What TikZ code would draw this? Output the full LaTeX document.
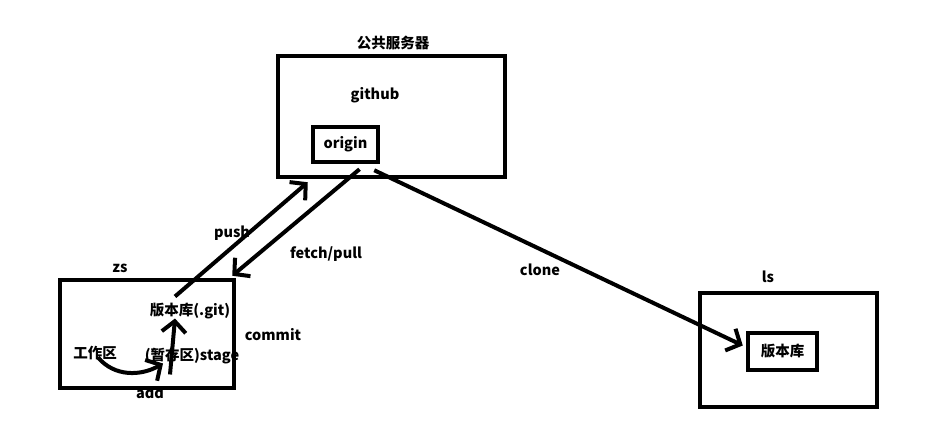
\documentclass[tikz,border=0pt]{standalone}
\usepackage{fontspec}
\setmainfont{Noto Sans CJK SC}
\usetikzlibrary{arrows.meta}
\begin{document}
\begin{tikzpicture}
    [%%%%%%%%%%%%%%%%%%%%%%%%%%%%%%
        x=1pt, y=-1pt,
        every node/.style={font=\fontsize{14.5}{16}\selectfont\bfseries},
        box/.style={rectangle,draw=black,line width=4.5pt,inner sep=0pt},
        flow/.style={line width=4pt,-{Straight Barb[length=11pt,width=24pt,line width=4pt]}},
    ]%%%%%%%%%%%%%%%%%%%%%%%%%%%%%%
\useasboundingbox[fill=white] (0,0) rectangle (945,442);

\node[box, minimum width=227pt, minimum height=121pt] (server) at (391.5,116.5) {};
\node (serverlabel) at (393,43) {公共服务器};
\node (github) at (375,95) {github};
\node[box, minimum width=65pt, minimum height=35pt] (origin) at (345.5,144.5) {origin};

\node[box, minimum width=174pt, minimum height=108pt] (zs) at (147,334) {};
\node (zslabel) at (120,268) {zs};
\node (gitrepo) at (190,311) {版本库(.git)};
\node (workarea) at (95,353) {工作区};
\node (stage) at (192,356) {(暂存区)stage};
\node (commit) at (273,335) {commit};
\node (add) at (150,393) {add};

\node[box, minimum width=177pt, minimum height=114pt] (ls) at (788.5,350) {};
\node (lslabel) at (768,277) {ls};
\node[box, minimum width=69pt, minimum height=37pt] (lsrepo) at (782.5,351.5) {版本库};

\node (push) at (232,233) {push};
\node (fetchpull) at (326,254) {fetch/pull};
\node (clone) at (540,270) {clone};

\draw[flow] ([xshift=-15pt,yshift=3pt]gitrepo.north) -- ([xshift=32pt,yshift=-3pt]server.south west);
\draw[flow] ([xshift=14pt,yshift=-5pt]origin.south) -- ([xshift=-4pt,yshift=2pt]zs.north east);
\draw[flow] ([xshift=-6pt,yshift=-6pt]origin.south east) -- ([xshift=-3pt,yshift=6pt]lsrepo.west);
\draw[flow] ([xshift=-22pt,yshift=-7pt]stage.south) -- ([xshift=-15pt,yshift=4pt]gitrepo.south);
\draw[flow] ([xshift=3pt,yshift=6pt]workarea.south) to[out=-50,in=210] ([xshift=-29pt,yshift=4pt]stage.south);

\end{tikzpicture}
\end{document}
